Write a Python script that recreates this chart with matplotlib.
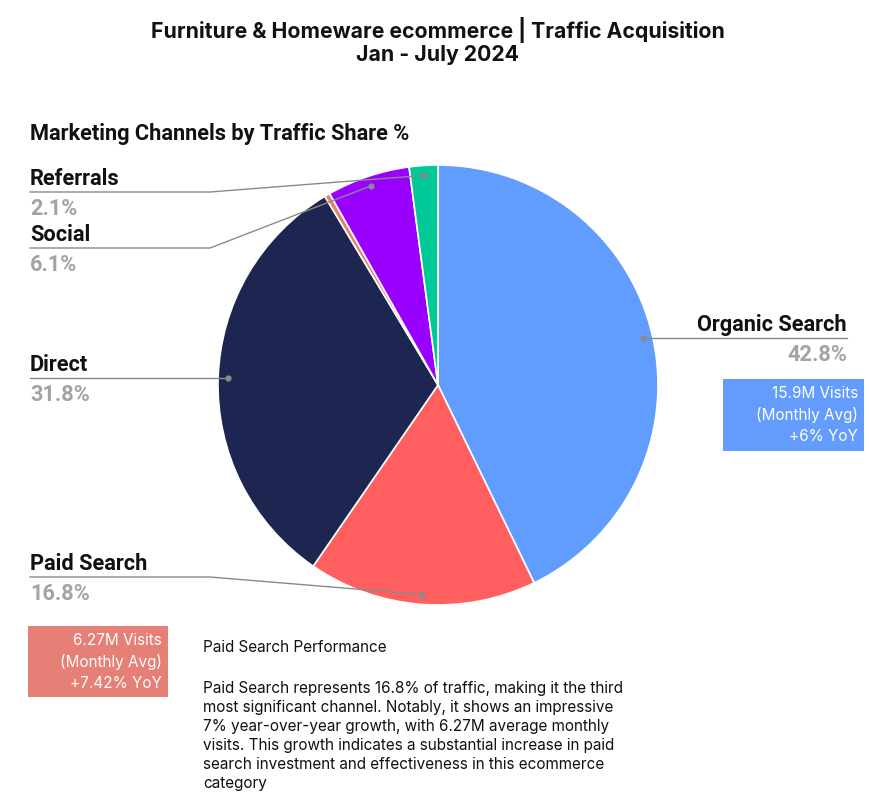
import numpy as np
import matplotlib.pyplot as plt

channels = ['Organic Search', 'Paid Search', 'Direct', 'Other', 'Social', 'Referrals']
shares = [42.8, 16.8, 31.8, 0.4, 6.1, 2.1]
colors = ['#619cff', '#ff5f5f', '#1c2650', '#e8806f', '#9900ff', '#00c896']
pct_labels = ['42.8%', '16.8%', '31.8%', '', '6.1%', '2.1%']

organic_box = ['15.9M Visits', '(Monthly Avg)', '+6% YoY']
paid_box = ['6.27M Visits', '(Monthly Avg)', '+7.42% YoY']
body_title = 'Paid Search Performance'
body_lines = [
    'Paid Search represents 16.8% of traffic, making it the third',
    'most significant channel. Notably, it shows an impressive',
    '7% year-over-year growth, with 6.27M average monthly',
    'visits. This growth indicates a substantial increase in paid',
    'search investment and effectiveness in this ecommerce',
    'category',
]

W, H = 870, 803
fig = plt.figure(figsize=(W / 100, H / 100), dpi=100)
ax = fig.add_axes([0, 0, 1, 1])


def py(y):
    # pixel row -> data y
    return H - y


cx, cy, R = 438, py(386), 220
wedges, _ = ax.pie(shares, colors=colors, startangle=90, counterclock=False,
                   center=(cx, cy), radius=R,
                   wedgeprops=dict(edgecolor='white', linewidth=1.2))
ax.set_xlim(0, W)
ax.set_ylim(0, H)
ax.set_aspect('equal')
ax.axis('off')

label_font = 'Roboto'
body_font = 'Inter'
grey = '#a3a3a3'
line_col = '#8a8a8a'

# label layout: (side, line y in px or None for straight line)
layout = {
    'Organic Search': ('right', None),
    'Paid Search': ('left', 578),
    'Direct': ('left', None),
    'Social': ('left', 249),
    'Referrals': ('left', 193),
}

for w, name, pct in zip(wedges, channels, pct_labels):
    if name not in layout:
        continue
    side, ly = layout[name]
    mid = np.deg2rad((w.theta1 + w.theta2) / 2)
    dx = cx + 0.955 * R * np.cos(mid)
    dy = cy + 0.955 * R * np.sin(mid)
    if ly is None:
        yline = dy
        xs, ys = [dx], [dy]
    else:
        yline = py(ly)
        xs, ys = [dx, 210], [dy, yline]
    if side == 'right':
        xs = xs + [847]
        tx, ha = 847, 'right'
    else:
        xs = xs + [30]
        tx, ha = 30, 'left'
    ys = ys + [yline]
    ax.plot(xs, ys, color=line_col, lw=1)
    ax.plot([dx], [dy], 'o', color=line_col, ms=3.5)
    ax.text(tx, yline + 3, name, ha=ha, va='bottom', fontsize=15.7,
            fontweight='bold', family=label_font, color='#111111')
    ax.text(tx, yline - 5, pct, ha=ha, va='top', fontsize=15.7,
            fontweight='bold', family=label_font, color=grey)

# titles
ax.text(438, py(30), 'Furniture & Homeware ecommerce | Traffic Acquisition',
        ha='center', va='center', fontsize=15.3, fontweight='bold',
        family=body_font, color='#111111')
ax.text(438, py(55), 'Jan - July 2024', ha='center', va='center',
        fontsize=15.3, fontweight='bold', family=body_font, color='#111111')
ax.text(30, py(134), 'Marketing Channels by Traffic Share %', ha='left',
        va='center', fontsize=15.7, fontweight='bold', family=label_font,
        color='#111111')


def stat_box(x0, y0, x1, y1, color, lines):
    ax.add_patch(plt.Rectangle((x0, py(y1)), x1 - x0, y1 - y0,
                               facecolor=color, edgecolor='none'))
    for i, t in enumerate(lines):
        ax.text(x1 - 6, py(y0 + 14 + i * 21.5), t, ha='right', va='center',
                fontsize=11, family=body_font, color='white')


stat_box(723, 380, 864, 452, '#639cfc', organic_box)
stat_box(28, 627, 168, 698, '#e67f76', paid_box)

ax.text(203, py(648), body_title, ha='left', va='center', fontsize=11,
        family=body_font, color='#111111')
for i, t in enumerate(body_lines):
    ax.text(203, py(689 + i * 19), t, ha='left', va='center', fontsize=11,
            family=body_font, color='#111111')

fig.savefig('out.png', dpi=100)
